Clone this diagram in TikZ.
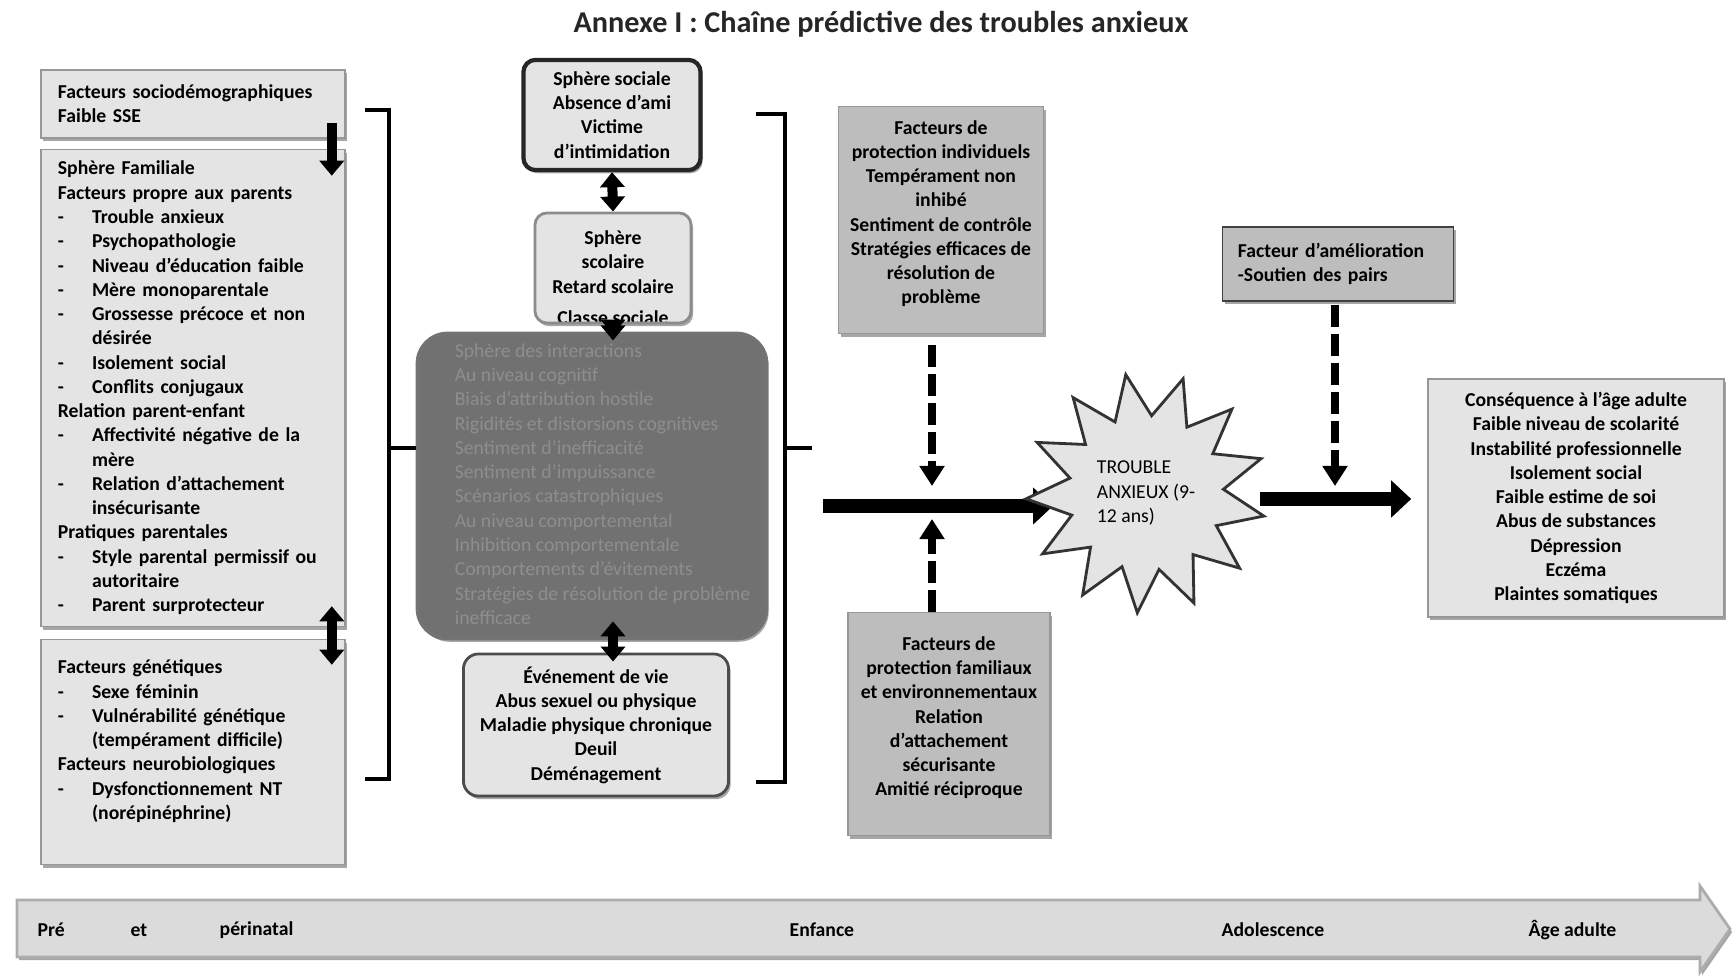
\documentclass[tikz,border=0pt]{standalone}
\usepackage{fontspec}
\setmainfont{Carlito}
\usetikzlibrary{arrows.meta,shapes.geometric,shadows}

\definecolor{fondclair}{HTML}{E4E4E4}
\definecolor{fondmoyen}{HTML}{BDBDBD}
\definecolor{fondsombre}{HTML}{717171}
\definecolor{textesombre}{HTML}{8E8E8E}
\definecolor{bordgris}{HTML}{979797}

\newcommand{\tiret}[1]{\makebox[9.7pt][l]{-}#1}
\newcommand{\suite}[1]{\hspace*{9.7pt}#1}

\begin{document}
\begin{tikzpicture}[x=0.01cm, y=-0.01cm,
    petit/.style={font=\fontsize{5.6}{6.9}\selectfont\bfseries},
    ombre/.style={drop shadow={shadow xshift=0.6pt, shadow yshift=-0.9pt, opacity=0.7}},
    boite/.style={petit, ombre, draw=bordgris, fill=fondclair, text width=2.7cm, align=left,
        inner xsep=0.17cm, minimum width=3.04cm},
    ronde/.style={petit, ombre, fill=fondclair, align=center, rounded corners=0.12cm},
    protection/.style={petit, ombre, draw=bordgris, fill=fondmoyen, align=center},
    grosse/.style={line width=0.14cm, -{Triangle[length=0.2cm, width=0.36cm]}},
    bloc/.style={line width=0.1cm, {Triangle[length=0.15cm, width=0.24cm]}-{Triangle[length=0.15cm, width=0.24cm]}},
    pointille/.style={line width=0.075cm, dash pattern=on 0.22cm off 0.07cm, -{Triangle[length=0.2cm, width=0.24cm]}},
    accolade/.style={line width=0.9pt},
    periode/.style={petit, anchor=west, inner xsep=0pt}]
    \useasboundingbox (0,0) rectangle (1733,979);

    \node[font=\fontsize{8.6}{10}\selectfont\bfseries, text=black!85] (titre) at (881,24)
        {Annexe I : Chaîne prédictive des troubles anxieux};

    % colonne de gauche
    \node[boite, minimum height=0.68cm] (socio) at (193,104)
        {Facteurs sociodémographiques\\Faible SSE};
    \node[boite, minimum height=4.73cm] (famille) at (193,388)
        {Sphère Familiale\\
        Facteurs propre aux parents\\
        \tiret{Trouble anxieux}\\
        \tiret{Psychopathologie}\\
        \tiret{Niveau d’éducation faible}\\
        \tiret{Mère monoparentale}\\
        \tiret{Grossesse précoce et non}\\
        \suite{désirée}\\
        \tiret{Isolement social}\\
        \tiret{Conflits conjugaux}\\
        Relation parent-enfant\\
        \tiret{Affectivité négative de la}\\
        \suite{mère}\\
        \tiret{Relation d’attachement}\\
        \suite{insécurisante}\\
        Pratiques parentales\\
        \tiret{Style parental permissif ou}\\
        \suite{autoritaire}\\
        \tiret{Parent surprotecteur}};
    \node[boite, minimum height=2.25cm] (genet) at (193,752)
        {Facteurs génétiques\\
        \tiret{Sexe féminin}\\
        \tiret{Vulnérabilité génétique}\\
        \suite{(tempérament difficile)}\\
        Facteurs neurobiologiques\\
        \tiret{Dysfonctionnement NT}\\
        \suite{(norépinéphrine)}\rule[-7pt]{0pt}{0pt}};

    \draw[line width=0.1cm, -{Triangle[length=0.15cm, width=0.24cm]}, shorten <=-0.16cm, shorten >=-0.27cm]
        ([xshift=-0.14cm]socio.south east) -- ([xshift=-0.14cm]famille.north east);
    \draw[bloc, shorten <=-0.21cm, shorten >=-0.26cm]
        ([xshift=-0.14cm]famille.south east) -- ([xshift=-0.14cm]genet.north east);

    % colonne du milieu
    \node[ronde, draw=black!85, line width=1.2pt, minimum width=1.77cm, minimum height=1.08cm] (sociale) at (612,115)
        {Sphère sociale\\Absence d’ami\\Victime\\d’intimidation};
    \node[ronde, draw=black!45, line width=0.8pt, minimum width=1.56cm, minimum height=1.1cm, inner ysep=1pt,
        path picture={\node[petit] at ([yshift=1.6pt]path picture bounding box.south) {Classe sociale};}] (scolaire) at (613,268)
        {Sphère\\scolaire\\Retard scolaire\rule[-3.4pt]{0pt}{0pt}};
    \node[font=\fontsize{5.6}{6.9}\selectfont, fill=fondsombre, draw=black!55, line width=1pt, rounded corners=0.3cm,
        text=textesombre, inner ysep=0.05cm, inner xsep=0pt, minimum width=3.49cm, minimum height=3.05cm,
        ombre] (interactions) at (592,486)
        {\begin{tabular}{@{\hspace{0.21cm}}l@{}}
        Sphère des interactions\\
        Au niveau cognitif\\
        Biais d’attribution hostile\\
        Rigidités et distorsions cognitives\\
        Sentiment d’inefficacité\\
        Sentiment d’impuissance\\
        Scénarios catastrophiques\\
        Au niveau comportemental\\
        Inhibition comportementale\\
        Comportements d’évitements\\
        Stratégies de résolution de problème\\
        inefficace
        \end{tabular}};
    \node[ronde, draw=black!70, line width=0.8pt, minimum width=2.65cm, minimum height=1.42cm, rounded corners=0.15cm] (evenement) at (596,725)
        {Événement de vie\\Abus sexuel ou physique\\Maladie physique chronique\\Deuil\\Déménagement};

    \draw[bloc] (sociale.south) -- (scolaire.north);
    \draw[bloc, shorten <=-0.16cm, shorten >=-0.03cm] (scolaire.south) -- (scolaire.south |- interactions.north);
    \draw[bloc, shorten <=-0.19cm, shorten >=-0.09cm] (interactions.south -| scolaire.south) -- (evenement.north -| scolaire.south);

    % crochets
    \coordinate (pinceg) at (389,448);
    \coordinate (pinced) at (785,448);
    \draw[accolade] (365,110) -- (389,110) -- (389,779) -- (365,779);
    \draw[accolade] (pinceg) -- (pinceg -| interactions.west);
    \draw[accolade] (756,114) -- (785,114) -- (785,782) -- (756,782);
    \draw[accolade] (pinced) -- ++(27,0);

    % facteurs de protection
    \node[protection, minimum width=2.03cm, minimum height=2.27cm] (protind) at (941,220)
        {Facteurs de\\protection individuels\\Tempérament non\\inhibé\\Sentiment de contrôle\\Stratégies efficaces de\\résolution de\\problème\rule[-4.5pt]{0pt}{0pt}};
    \node[protection, minimum width=2.02cm, minimum height=2.23cm] (protfam) at (949,724)
        {Facteurs de\\protection familiaux\\et environnementaux\\Relation\\d’attachement\\sécurisante\\Amitié réciproque\rule[-4.5pt]{0pt}{0pt}};

    \coordinate (depart) at (823,506);
    \coordinate (entree) at (1053,506);
    \coordinate (haut) at (932,486);
    \coordinate (bas) at (932,519);
    \draw[grosse] (depart) -- (entree);
    \draw[pointille, shorten <=0.11cm] (protind.south -| haut) -- (haut);
    \draw[pointille] (protfam.north -| bas) -- (bas);

    % trouble
    \node[star, star points=13, star point ratio=1.55, shape border rotate=-18, minimum size=2.4cm, inner sep=0pt,
        fill=fondclair, draw=black!80, line width=0.8pt, font=\fontsize{5.6}{6.9}\selectfont, align=left] (etoile) at (1146,493)
        {TROUBLE\\ANXIEUX (9-\\12 ans)};

    % apres le trouble
    \node[protection, draw=black!75, text width=2.0cm, align=left, inner xsep=0.155cm, minimum height=0.74cm] (amelio) at (1338,264)
        {Facteur d’amélioration\\-Soutien des pairs};
    \node[ronde, rounded corners=0pt, draw=bordgris, minimum width=2.96cm, minimum height=2.38cm] (consequence) at (1576,498)
        {Conséquence à l’âge adulte\\Faible niveau de scolarité\\Instabilité professionnelle\\Isolement social\\Faible estime de soi\\Abus de substances\\Dépression\\Eczéma\\Plaintes somatiques};

    \coordinate (sortie) at (1260,499);
    \coordinate (ameliocible) at (1335,486);
    \draw[grosse, shorten >=0.16cm] (sortie) -- (sortie -| consequence.west);
    \draw[pointille, shorten <=0.03cm] (amelio.south -| ameliocible) -- (ameliocible);

    % ligne du temps
    \draw[fill=gray!28, draw=gray!65, line width=0.8pt, ombre]
        (17,900) -- (1700,900) -- (1700,886) -- (1730,929) -- (1700,972) -- (1700,957) -- (17,957) -- cycle;
    \node[periode] (pre) at (37,930) {Pré};
    \node[periode] (et) at (130,930) {et};
    \node[periode] (perinatal) at (219,930) {périnatal};
    \node[periode] (enfance) at (789,930) {Enfance};
    \node[periode] (ado) at (1221,930) {Adolescence};
    \node[periode] (adulte) at (1528,930) {Âge adulte};
\end{tikzpicture}
\end{document}
